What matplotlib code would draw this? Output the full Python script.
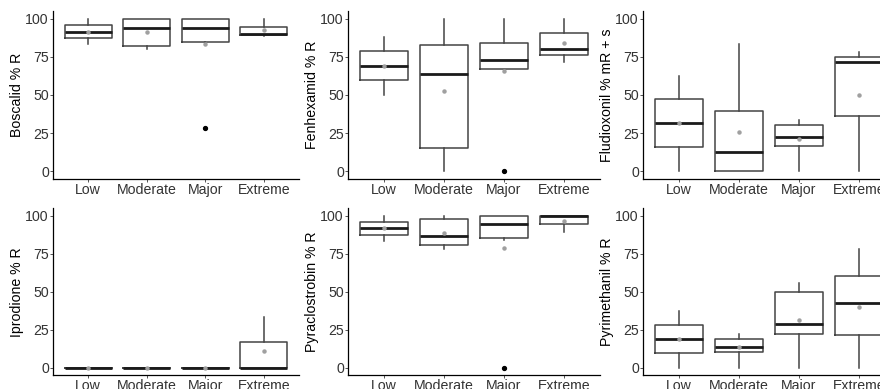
import numpy as np
import matplotlib
matplotlib.use("Agg")
import matplotlib.pyplot as plt

plt.rcParams["font.family"] = ["Liberation Sans", "DejaVu Sans"]

groups = ["Low", "Moderate", "Major", "Extreme"]
titles = ["Boscalid % R", "Fenhexamid % R", "Fludioxonil % mR + s",
          "Iprodione % R", "Pyraclostrobin % R", "Pyrimethanil % R"]

# per panel, per group (Low, Moderate, Major, Extreme)
whislo = [[83.6, 80.1, 83.0, 88.6],
          [50.0, 0.0, 66.9, 71.7],
          [0.0, 0.0, 0.0, 0.0],
          [0.0, 0.0, 0.0, 0.0],
          [83.6, 78.1, 84.0, 89.0],
          [0.0, 0.0, 0.0, 0.0]]
q1 = [[87.3, 82.3, 84.5, 89.5],
      [59.6, 15.4, 66.9, 76.1],
      [16.0, 0.0, 16.4, 36.0],
      [0.0, 0.0, 0.0, 0.0],
      [87.5, 80.9, 85.1, 94.5],
      [9.4, 10.5, 22.1, 21.3]]
med = [[91.5, 94.1, 94.1, 90.0],
       [68.9, 63.6, 72.6, 80.3],
       [31.4, 12.7, 22.6, 71.5],
       [0.0, 0.0, 0.0, 0.0],
       [91.7, 86.8, 94.7, 100.0],
       [18.6, 13.8, 28.5, 42.8]]
q3 = [[95.6, 100.0, 100.0, 94.8],
      [78.5, 82.7, 84.0, 90.4],
      [47.1, 39.7, 30.5, 74.8],
      [0.0, 0.0, 0.0, 16.7],
      [95.8, 97.6, 100.0, 100.0],
      [28.1, 19.1, 50.0, 60.3]]
whishi = [[100.0, 100.0, 100.0, 100.0],
          [87.7, 100.0, 100.0, 100.0],
          [62.5, 83.3, 33.6, 77.9],
          [0.0, 0.0, 0.0, 33.1],
          [100.0, 100.0, 100.0, 100.0],
          [37.3, 21.9, 55.5, 77.9]]
means = [[91.5, 91.3, 83.6, 92.8],
         [68.9, 52.6, 66.0, 84.0],
         [31.4, 25.7, 21.3, 50.0],
         [0.0, 0.0, 0.0, 11.2],
         [91.7, 88.6, 78.9, 96.5],
         [18.6, 13.4, 31.1, 40.1]]
outliers = [[[], [], [28.6], []],
            [[], [], [0.0], []],
            [[], [], [], []],
            [[], [], [], []],
            [[], [], [0.0], []],
            [[], [], [], []]]

W, H = 880, 389
fig = plt.figure(figsize=(W / 100, H / 100), dpi=100)

lefts = [53, 348, 643]
widths = [246, 252, 252]
rows = [(179, 11), (375.3, 208.1)]  # (bottom px, top px)

for i in range(6):
    r, c = divmod(i, 3)
    bot, top = rows[r]
    ax = fig.add_axes([lefts[c] / W, (H - bot) / H, widths[c] / W, (bot - top) / H])
    stats = []
    for j in range(4):
        stats.append(dict(whislo=whislo[i][j], q1=q1[i][j], med=med[i][j],
                          q3=q3[i][j], whishi=whishi[i][j], fliers=outliers[i][j]))
    ax.bxp(stats, positions=np.arange(1, 5), widths=0.8, showcaps=False,
           boxprops=dict(color="#444444", linewidth=1.1),
           whiskerprops=dict(color="#444444", linewidth=1.1),
           medianprops=dict(color="#1a1a1a", linewidth=2.0),
           flierprops=dict(marker="o", markersize=2.8, markerfacecolor="black",
                           markeredgecolor="black"))
    ax.plot(np.arange(1, 5), means[i], "o", color="#a0a0a0", markersize=2.2, zorder=5)

    ax.set_xlim(0.4, 4.6)
    ax.set_ylim(-5, 105)
    ax.set_yticks([0, 25, 50, 75, 100])
    ax.set_xticks(np.arange(1, 5))
    ax.set_xticklabels(groups)
    ax.set_ylabel(titles[i], fontsize=10.2, labelpad=1)
    ax.tick_params(labelsize=10.2, labelcolor="#333333", color="#555555",
                   length=2, width=0.7, pad=1)
    for s in ["top", "right"]:
        ax.spines[s].set_visible(False)
    for s in ["left", "bottom"]:
        ax.spines[s].set_linewidth(0.9)
        ax.spines[s].set_color("black")

fig.savefig("out.png", dpi=100)
